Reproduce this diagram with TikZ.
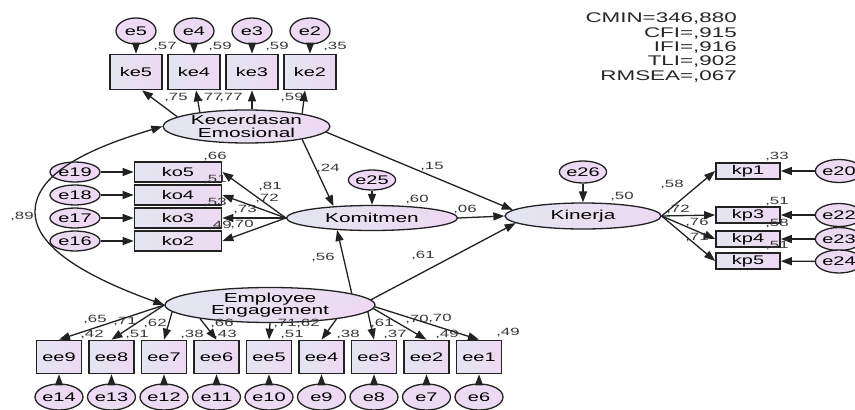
\documentclass[tikz,border=0pt]{standalone}
\usepackage{fontspec}
\setmainfont[FakeStretch=1.6]{Liberation Sans}
\usetikzlibrary{shapes.geometric,arrows.meta,calc}
\definecolor{bl}{HTML}{E3E6F0}
\definecolor{lv}{HTML}{EDD9F3}
\definecolor{ln}{HTML}{222222}
\begin{document}
\begin{tikzpicture}[x=1pt,y=-1pt,
 obs/.style={rectangle, draw=ln, line width=1.7pt, left color=bl, right color=lv, inner sep=0pt, font=\fontsize{12.5}{12.5}\selectfont},
 lat/.style={ellipse, draw=ln, line width=1.3pt, left color=bl, right color=lv, inner sep=0pt, align=center, font=\fontsize{13}{13}\selectfont},
 err/.style={ellipse, draw=ln, line width=1.3pt, left color=lv!85!bl, right color=lv, inner sep=0pt, font=\fontsize{12.5}{12.5}\selectfont},
 arr/.style={-{Triangle[length=11pt,width=8pt]}, line width=1.3pt, draw=ln},
 val/.style={font=\fontsize{10.5}{10.5}\selectfont, text=black!78, inner sep=0pt},
 kebox/.style={obs, minimum width=52pt, minimum height=35pt},
 kobox/.style={obs, minimum width=87pt, minimum height=20pt},
 kpbox/.style={obs, minimum width=64pt, minimum height=16pt},
 eebox/.style={obs, minimum width=45pt, minimum height=33pt},
 etop/.style={err, minimum width=40pt, minimum height=26pt},
 eleft/.style={err, minimum width=50pt, minimum height=20pt},
 eright/.style={err, minimum width=44pt, minimum height=23pt},
 ebot/.style={err, minimum width=48pt, minimum height=26pt},
]
\useasboundingbox (0,0) rectangle (855,410);

% fit indices
\node[anchor=north east, align=right, inner sep=0pt, font=\fontsize{14}{14.3}\selectfont, text=black!85] (fit) at (737,13) {CMIN=346,880\\CFI=,915\\IFI=,916\\TLI=,902\\RMSEA=,067};

% Kecerdasan Emosional block
\node[kebox] (ke5) at (136,72) {ke5};
\node[kebox] (ke4) at (194,72) {ke4};
\node[kebox] (ke3) at (252,72) {ke3};
\node[kebox] (ke2) at (310,72) {ke2};
\node[etop] (e5) at (136,31) {e5};
\node[etop] (e4) at (194,31) {e4};
\node[etop] (e3) at (252,31) {e3};
\node[etop] (e2) at (310,31) {e2};
\node[lat, minimum width=167pt, minimum height=33pt, font=\fontsize{13}{13.5}\selectfont] (KE) at (246.5,126.5) {Kecerdasan\\Emosional};

% Komitmen block
\node[kobox] (ko5) at (178,172) {ko5};
\node[kobox] (ko4) at (178,195) {ko4};
\node[kobox] (ko3) at (178,218) {ko3};
\node[kobox] (ko2) at (178,241) {ko2};
\node[eleft] (e19) at (75,172) {e19};
\node[eleft] (e18) at (75,195) {e18};
\node[eleft] (e17) at (75,218) {e17};
\node[eleft] (e16) at (75,241) {e16};
\node[lat, minimum width=171pt, minimum height=25pt] (KO) at (372,218) {Komitmen};
\node[err, minimum width=40pt, minimum height=20pt] (e25) at (372,180) {e25};

% Kinerja block
\node[lat, minimum width=156pt, minimum height=26pt] (KI) at (583,216) {Kinerja};
\node[err, minimum width=42pt, minimum height=22pt] (e26) at (583,172) {e26};
\node[kpbox] (kp1) at (748,171) {kp1};
\node[kpbox] (kp3) at (748,215) {kp3};
\node[kpbox] (kp4) at (748,239) {kp4};
\node[kpbox] (kp5) at (748,261) {kp5};
\node[eright] (e20) at (839,171) {e20};
\node[eright] (e22) at (839,215) {e22};
\node[eright] (e23) at (839,239) {e23};
\node[eright] (e24) at (839,261.5) {e24};

% Employee Engagement block
\node[lat, minimum width=210pt, minimum height=26pt, font=\fontsize{13}{10.5}\selectfont] (EE) at (270,305) {Employee\\Engagement};
\node[eebox] (ee9) at (59,357) {ee9};
\node[eebox] (ee8) at (111.5,357) {ee8};
\node[eebox] (ee7) at (164,357) {ee7};
\node[eebox] (ee6) at (216.5,357) {ee6};
\node[eebox] (ee5) at (269,357) {ee5};
\node[eebox] (ee4) at (321.5,357) {ee4};
\node[eebox] (ee3) at (374,357) {ee3};
\node[eebox] (ee2) at (426.5,357) {ee2};
\node[eebox] (ee1) at (479,357) {ee1};
\node[ebot] (e14) at (59,397) {e14};
\node[ebot] (e13) at (111.5,397) {e13};
\node[ebot] (e12) at (164,397) {e12};
\node[ebot] (e11) at (216.5,397) {e11};
\node[ebot] (e10) at (269,397) {e10};
\node[ebot] (e9) at (321.5,397) {e9};
\node[ebot] (e8) at (374,397) {e8};
\node[ebot] (e7) at (426.5,397) {e7};
\node[ebot] (e6) at (479,397) {e6};

% value labels
\node[val] (r1) at (165,47) {,57};
\node[val] (r2) at (220,47) {,59};
\node[val] (r3) at (277,47) {,59};
\node[val] (r4) at (335,47) {,35};
\node[val] (l1) at (176,98) {,75};
\node[val] (l2) at (211,98) {,77};
\node[val] (l3) at (231,98) {,77};
\node[val] (l4) at (292,98) {,59};
\node[val] (r5) at (215,157) {,66};
\node[val] (r6) at (215,180) {,51};
\node[val] (r7) at (215,203) {,53};
\node[val] (r8) at (220,226) {,49};
\node[val] (l5) at (270,187) {,81};
\node[val] (l6) at (267,199) {,72};
\node[val] (l7) at (245,210) {,73};
\node[val] (l8) at (242,225) {,70};
\node[val] (c1) at (22,217) {,89};
\node[val] (p1) at (328,169) {,24};
\node[val] (p2) at (432,167) {,15};
\node[val] (r9) at (417,200) {,60};
\node[val] (p3) at (465,210) {,06};
\node[val] (p4) at (323,258) {,56};
\node[val] (p5) at (423,256) {,61};
\node[val] (r10) at (622,197) {,50};
\node[val] (l9) at (672,185) {,58};
\node[val] (l10) at (678,210) {,72};
\node[val] (l11) at (697,223) {,76};
\node[val] (l12) at (697,238) {,71};
\node[val] (r11) at (777,157) {,33};
\node[val] (r12) at (777,202) {,51};
\node[val] (r13) at (777,224) {,58};
\node[val] (r14) at (777,246) {,51};
\node[val] (l13) at (95,320) {,65};
\node[val] (l14) at (125,322) {,71};
\node[val] (l15) at (155,324) {,62};
\node[val] (l16) at (222,324) {,66};
\node[val] (l17) at (285,324) {,71};
\node[val] (l18) at (308,324) {,62};
\node[val] (l19) at (382,324) {,61};
\node[val] (l20) at (417,320) {,70};
\node[val] (l21) at (440,319) {,70};
\node[val] (r15) at (92,335) {,42};
\node[val] (r16) at (137,335) {,51};
\node[val] (r17) at (192,335) {,38};
\node[val] (r18) at (225,335) {,43};
\node[val] (r19) at (292,335) {,51};
\node[val] (r20) at (348,335) {,38};
\node[val] (r21) at (395,335) {,37};
\node[val] (r22) at (447,335) {,49};
\node[val] (r23) at (508,333) {,49};

% error arrows
\foreach \e/\b in {e5/ke5,e4/ke4,e3/ke3,e2/ke2,e19/ko5,e18/ko4,e17/ko3,e16/ko2,e25/KO,e26/KI,e20/kp1,e22/kp3,e23/kp4,e24/kp5,e14/ee9,e13/ee8,e12/ee7,e11/ee6,e10/ee5,e9/ee4,e8/ee3,e7/ee2,e6/ee1}
  \draw[arr] (\e) -- (\b);

% Kecerdasan loadings
\draw[arr] (KE.172) -- ($(ke5.south)+(6,0)$);
\draw[arr] (KE.163) -- ($(ke4.south)+(2,0)$);
\draw[arr] (ke3.south |- KE.north) -- (ke3.south);
\draw[arr] (KE.13) -- ($(ke2.south)+(-5,0)$);

% Komitmen loadings
\foreach \b in {ko5,ko4,ko3,ko2}
  \draw[arr] (KO.west) -- (\b.east);

% Kinerja loadings
\foreach \b in {kp1,kp3,kp4,kp5}
  \draw[arr] (KI.east) -- (\b.west);

% Engagement loadings
\draw[arr] (EE.west) -- (ee9.north);
\draw[arr] (EE.west) -- (ee8.north);
\draw[arr] (EE.184) -- (ee7.north);
\draw[arr] (EE.191.8) -- (ee6.north);
\draw[arr] (EE.south) -- (ee5.north);
\draw[arr] (EE.-12.4) -- (ee4.north);
\draw[arr] (EE.-4) -- (ee3.north);
\draw[arr] (EE.-2) -- (ee2.north);
\draw[arr] (EE.-1) -- (ee1.north);

% structural paths
\draw[arr] (KE.-13) -- (KO.163);
\draw[arr] (KE.-4) -- (KI.175);
\draw[arr] (KO.east) -- (KI.west);
\draw[arr] (EE.8) -- (KO.199);
\draw[arr] (EE.3) -- (KI.186);

% covariance
\coordinate (cv) at (35,212);
\draw[{Triangle[length=11pt,width=8pt]}-{Triangle[length=11pt,width=8pt]}, line width=1.3pt, draw=ln]
  (KE.west) .. controls (100,145) and (35,170) .. (cv) .. controls (35,250) and (95,280) .. (EE.west);
\end{tikzpicture}
\end{document}
